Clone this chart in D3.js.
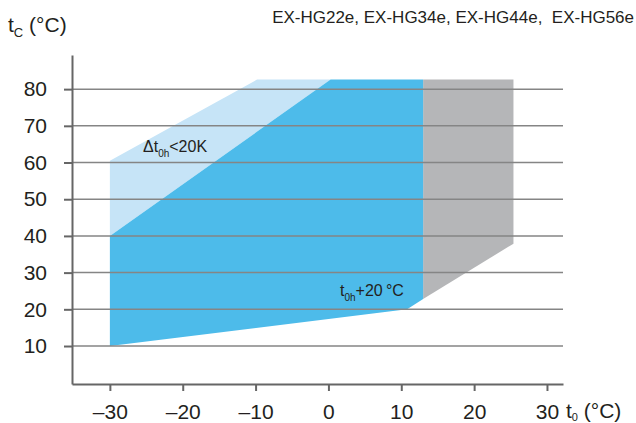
<!DOCTYPE html>
<html>
<head>
<meta charset="utf-8">
<script src="https://cdn.jsdelivr.net/npm/d3@7"></script>
<style>
body { margin: 0; background: #fff; }
svg { font-family: "Liberation Sans", Arial, sans-serif; }
</style>
</head>
<body>
<div id="chart"></div>
<script>
// chart data
const title = "EX-HG22e, EX-HG34e, EX-HG44e,\u00a0 EX-HG56e";
const xTicks = [-30, -20, -10, 0, 10, 20, 30];
const yTicks = [10, 20, 30, 40, 50, 60, 70, 80];
// envelope outlines as [t0, tc]
const lightArea = [[-30, 40], [-30, 60.5], [-9.8, 82.6], [0.3, 82.6]];
const blueArea = [[-30, 10], [10.8, 20], [13, 22.8], [13, 82.6], [0.3, 82.6], [-30, 40]];
const grayArea = [[13, 22.8], [25.4, 37.9], [25.4, 82.6], [13, 82.6]];

const W = 636, H = 423;

const svg = d3.select("#chart")
  .append("svg")
  .attr("width", W)
  .attr("height", H);

const x = d3.scaleLinear().domain([-35.2, 32.2]).range([72, 563]);
const y = d3.scaleLinear().domain([-0.35, 89.3]).range([384, 55]);

const line = d3.line().x(d => x(d[0])).y(d => y(d[1]));

// areas
svg.append("path").datum(lightArea).attr("d", line).attr("fill", "#c6e4f7");
svg.append("path").datum(grayArea).attr("d", line).attr("fill", "#b5b6b8");
svg.append("path").datum(blueArea).attr("d", line).attr("fill", "#4dbbea");

// gridlines
svg.append("g")
  .selectAll("line")
  .data(yTicks)
  .join("line")
  .attr("x1", x(-35.2))
  .attr("x2", x(32.2))
  .attr("y1", d => y(d))
  .attr("y2", d => y(d))
  .attr("stroke", "#858585")
  .attr("stroke-width", 1.5);

// axes
const xAxis = svg.append("g")
  .attr("transform", `translate(0,${y(-0.35)})`)
  .call(d3.axisBottom(x).tickValues(xTicks).tickSize(7).tickSizeOuter(0).tickPadding(13)
    .tickFormat(d => d < 0 ? "\u2013" + Math.abs(d) : d));

const yAxis = svg.append("g")
  .attr("transform", `translate(${x(-35.2)},0)`)
  .call(d3.axisLeft(y).tickValues(yTicks).tickSize(8).tickSizeOuter(0).tickPadding(17));

[xAxis, yAxis].forEach(g => {
  g.select(".domain").attr("stroke", "#666").attr("stroke-width", 2);
  g.selectAll(".tick line").attr("stroke", "#666").attr("stroke-width", 2);
  g.selectAll(".tick text")
    .attr("font-size", 21)
    .attr("font-family", "\"Liberation Sans\", Arial, sans-serif")
    .attr("fill", "#231f20");
});

// axis titles
const yt = svg.append("text")
  .attr("x", 8)
  .attr("y", 32)
  .attr("font-size", 21)
  .attr("fill", "#231f20");
yt.append("tspan").text("t");
yt.append("tspan").attr("font-size", 13).attr("dy", 5).text("C");
yt.append("tspan").attr("dy", -5).text(" (°C)");

const xt = svg.append("text")
  .attr("x", 566)
  .attr("y", 418)
  .attr("font-size", 21)
  .attr("fill", "#231f20");
xt.append("tspan").text("t");
xt.append("tspan").attr("font-size", 11).attr("dy", 3).text("0");
xt.append("tspan").attr("dy", -3).text(" (°C)");

// header
svg.append("text")
  .attr("x", 634)
  .attr("y", 23)
  .attr("text-anchor", "end")
  .attr("font-size", 17)
  .attr("fill", "#231f20")
  .text(title);

// labels in the plot
const l1 = svg.append("text")
  .attr("x", 143)
  .attr("y", 152)
  .attr("font-size", 16)
  .attr("fill", "#231f20");
l1.append("tspan").text("\u0394t");
l1.append("tspan").attr("font-size", 10).attr("dy", 5).text("0h");
l1.append("tspan").attr("dy", -5).text("<20K");

const l2 = svg.append("text")
  .attr("x", 340)
  .attr("y", 296)
  .attr("font-size", 16)
  .attr("fill", "#231f20");
l2.append("tspan").text("t");
l2.append("tspan").attr("font-size", 10).attr("dy", 5).text("0h");
l2.append("tspan").attr("dy", -5).text("+20\u2009°C");
</script>
</body>
</html>
